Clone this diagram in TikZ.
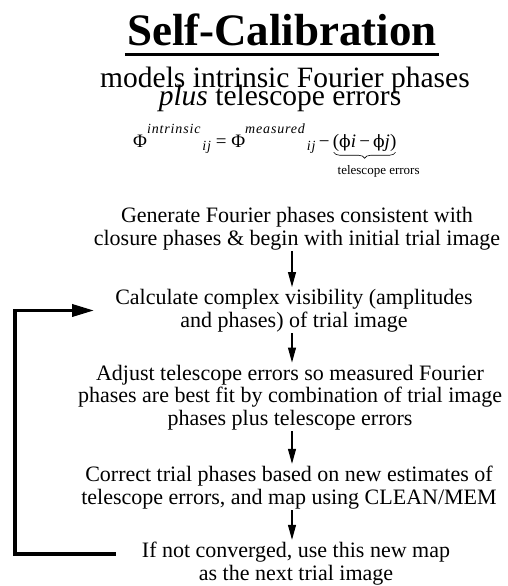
\documentclass[tikz,border=0pt]{standalone}
\usepackage{fontspec}
\setmainfont{Liberation Serif}
\newfontfamily\dvsfont{DejaVu Serif}
\usetikzlibrary{arrows.meta,calc,decorations.pathreplacing}
\newcommand\supfont{\fontsize{14}{14}\selectfont\itshape\addfontfeatures{LetterSpace=6}}
\newcommand\mysup[1]{\raisebox{14pt}{\supfont #1}}
\newcommand\mysub[1]{\raisebox{-3pt}{\supfont\kern2pt #1}}
\newcommand\myphi{{\dvsfont\fontsize{17}{17}\selectfont ϕ}}
\begin{document}
\begin{tikzpicture}[x=1pt,y=-1pt,
  body/.style={align=center, inner sep=0pt, anchor=base, font=\fontsize{22}{22.5}\selectfont},
  flow/.style={-{Triangle[length=15pt,width=8pt]}, line width=1.1pt, shorten <=1.5pt, shorten >=2pt},
  fb/.style={-{Triangle[length=22pt,width=12pt]}, line width=3.5pt, line join=miter},
  brc/.style={decorate, decoration={brace, mirror, amplitude=6pt}, line width=0.6pt}]
\useasboundingbox (0,0) rectangle (507,586);
% title
\node[inner sep=0pt, anchor=base, font=\fontsize{45}{45}\selectfont\bfseries] (title) at (282,46) {Self-Calibration};
\draw[line width=3.5pt] ($(title.base west)+(-2,8.5)$) -- ($(title.base east)+(2,8.5)$);
% subtitle
\node[inner sep=0pt, anchor=base, font=\fontsize{29.5}{29.5}\selectfont] (sub1) at (285,87) {models intrinsic Fourier phases};
\node[inner sep=0pt, anchor=base, font=\fontsize{29.5}{29.5}\selectfont] (sub2) at (280,105) {\textit{plus} telescope errors};
% formula
\node[inner sep=0pt, anchor=base west, font=\fontsize{19}{19}\selectfont] (fl) at (133,147)
  {Φ\mysup{intrinsic}\mysub{ij} = Φ\mysup{measured}\mysub{ij}\,−};
\node[inner sep=0pt, anchor=base west, font=\fontsize{19}{19}\selectfont] (fp) at ($(fl.base east)+(3,0)$)
  {(\myphi\textit{i}\,−\,\myphi\textit{j})};
\draw[brc] ($(fp.south west)+(1,1)$) -- ($(fp.south east)+(-1,1)$) coordinate[midway] (brmid);
\node[inner sep=0pt, anchor=base, font=\fontsize{13}{13}\selectfont] (te) at ($(brmid)+(14,22)$) {telescope errors};
% flow
\coordinate (ax) at (292,0);
\node[body] (n1) at (297,245) {Generate Fourier phases consistent with\\closure phases \& begin with initial trial image};
\node[body] (n2) at (294,327) {Calculate complex visibility (amplitudes\\and phases) of trial image};
\node[body] (n3) at (290,425) {Adjust telescope errors so measured Fourier\\phases are best fit by combination of trial image\\phases plus telescope errors};
\node[body] (n4) at (289,504) {Correct trial phases based on new estimates of\\telescope errors, and map using CLEAN/MEM};
\node[body] (n5) at (296,580) {If not converged, use this new map\\as the next trial image};
\draw[flow] (n1.south -| ax) -- (n2.north -| ax);
\draw[flow] (n2.south -| ax) -- (n3.north -| ax);
\draw[flow] (n3.south -| ax) -- (n4.north -| ax);
\draw[flow] (n4.south -| ax) -- (n5.north -| ax);
% feedback
\coordinate (fbx) at (15,0);
\coordinate (fbs) at ($(n5.north west)+(-26,12)$);
\coordinate (fbe) at ($(n2.west)+(-21,0)$);
\draw[fb] (fbs) -- (fbs -| fbx) |- (fbe);
\end{tikzpicture}
\end{document}
